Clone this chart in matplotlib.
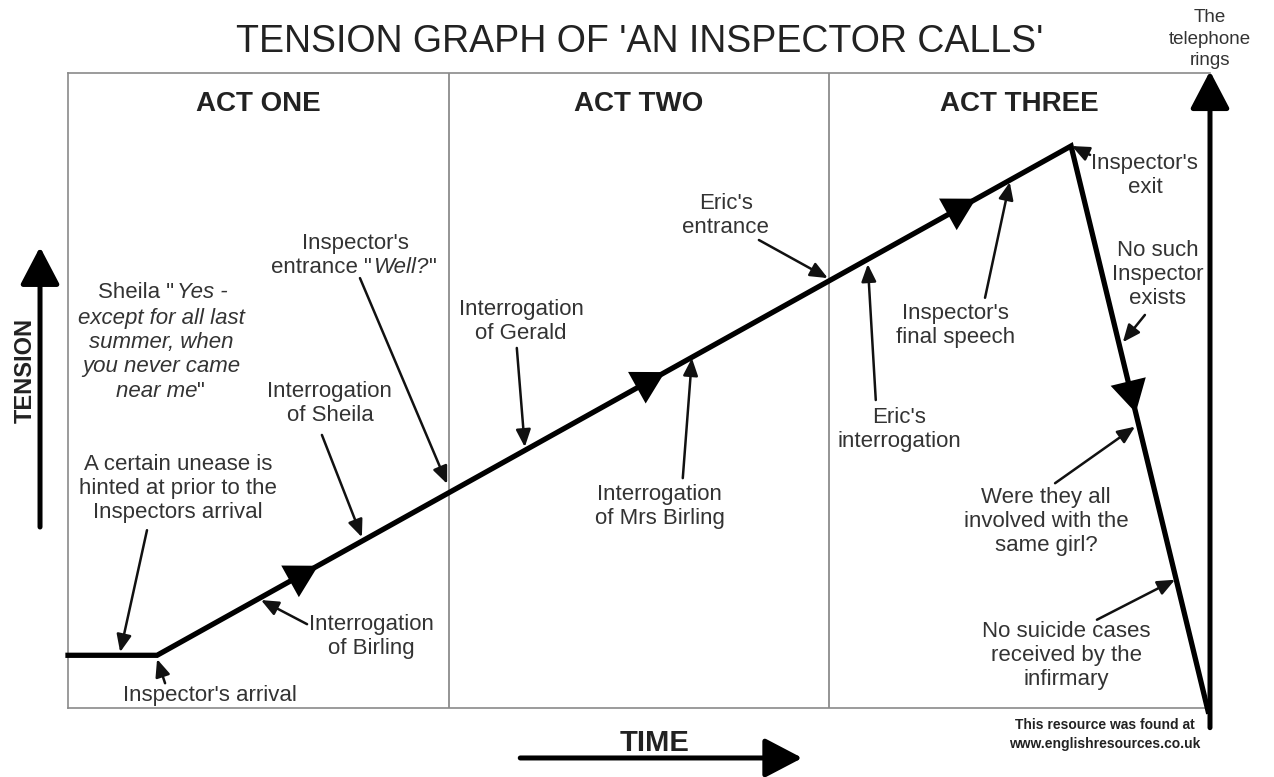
import matplotlib.pyplot as plt
import numpy as np

plt.rcParams['font.family'] = ['Liberation Sans', 'DejaVu Sans']

# time is measured in acts (0-3), tension on a 0-100 scale
line_time = [0, 0.234, 2.635, 2.995]
line_tension = [8.3, 8.3, 88.5, -0.5]

# arrowheads showing direction along the line
head_time = [0.657, 1.568, 2.385, 2.805]
head_tension = [22.4, 52.9, 80.2, 46.5]

acts = ['ACT ONE', 'ACT TWO', 'ACT THREE']
act_ends = [1, 2]

events = [
    'A certain unease is\nhinted at prior to the\nInspectors arrival',
    "Inspector's arrival",
    'Interrogation\nof Birling',
    'Interrogation\nof Sheila',
    "Inspector's\nentrance",
    'Interrogation\nof Gerald',
    'Interrogation\nof Mrs Birling',
    "Eric's\nentrance",
    "Eric's\ninterrogation",
    "Inspector's\nfinal speech",
    "Inspector's\nexit",
    'No such\nInspector\nexists',
    'Were they all\ninvolved with the\nsame girl?',
    'No suicide cases\nreceived by the\ninfirmary',
]
# where each event's arrow meets the line
event_time = [0.137, 0.234, 0.507, 0.772, 0.996, 1.200, 1.639, 1.996,
              2.101, 2.474, 2.637, 2.771, 2.803, 2.908]
event_tension = [8.8, 7.7, 17.0, 26.9, 35.3, 41.1, 55.1, 67.7,
                 69.9, 82.8, 88.5, 57.6, 44.3, 20.2]

# layout: label centres and arrow tails
label_pos = [(0.289, 34.6), (0.373, 2.0), (0.796, 11.2), (0.688, 47.9),
             None, (1.190, 60.9), (1.555, 31.7), (1.728, 77.5),
             (2.183, 43.9), (2.332, 60.2), (2.829, 83.9), (2.863, 68.3),
             (2.569, 29.4), (2.622, 8.3)]
tail_pos = [(0.2075, 28.0), (0.255, 3.9), (0.628, 13.2), (0.667, 43.0),
            (0.767, 67.7), (1.179, 56.7), (1.615, 36.2), (1.815, 73.7),
            (2.122, 48.5), (2.409, 64.6), (2.685, 87.1), (2.829, 61.9),
            (2.593, 35.4), (2.703, 13.9)]

txt_col = '#333333'
fs = 16
ls = 1.2

fig = plt.figure(figsize=(12.74, 7.77), dpi=100)
ax = fig.add_axes([68 / 1274, 69 / 777, 1142 / 1274, 635 / 777])
ax.set_xlim(0, 3)
ax.set_ylim(0, 100)
ax.set_xticks([])
ax.set_yticks([])
for s in ['left', 'top', 'bottom']:
    ax.spines[s].set_color('#8a8a8a')
    ax.spines[s].set_linewidth(1.2)
ax.spines['right'].set_visible(False)

for x in act_ends:
    ax.axvline(x, color='#777777', lw=1.1)
for i, name in enumerate(acts):
    ax.text(i + 0.5, 95.1, name, ha='center', va='center', fontsize=20,
            fontweight='bold', color='#222222')

# main tension line
ax.plot(line_time, line_tension, color='black', lw=3.8,
        solid_joinstyle='miter', clip_on=False, zorder=3)
for i, (t, v) in enumerate(zip(head_time, head_tension)):
    start = (line_time[1], line_tension[1]) if i < 3 else (line_time[2], line_tension[2])
    ax.annotate('', xy=(t, v), xytext=start,
                arrowprops=dict(arrowstyle='-|>,head_length=1.1,head_width=0.62',
                                color='black', lw=0, mutation_scale=21,
                                shrinkA=0, shrinkB=0), zorder=4)

# right-hand arrow (the telephone rings)
ax.annotate('', xy=(3.0, 100.3), xytext=(3.0, -3.1),
            arrowprops=dict(arrowstyle='-|>,head_length=1.05,head_width=0.55',
                            color='black', lw=3.6, mutation_scale=22,
                            shrinkA=0, shrinkB=0), annotation_clip=False)
ax.text(1.0, 1.0535, 'The\ntelephone\nrings', transform=ax.transAxes,
        ha='center', va='center', fontsize=13.5, linespacing=1.35,
        color=txt_col, clip_on=False)

# event labels and arrows
for i, lab in enumerate(events):
    ax.annotate('', xy=(event_time[i], event_tension[i]), xytext=tail_pos[i],
                arrowprops=dict(arrowstyle='-|>,head_length=0.75,head_width=0.32',
                                color='#111111', lw=1.8, mutation_scale=14,
                                shrinkA=0, shrinkB=0), zorder=5)
    if label_pos[i] is None:
        continue
    ax.text(label_pos[i][0], label_pos[i][1], lab, ha='center', va='center',
            fontsize=fs, color=txt_col, linespacing=ls, multialignment='center')

# Inspector's entrance "Well?"
ax.text(0.754, 73.2, "Inspector's", ha='center', va='center', fontsize=fs, color=txt_col)
t1 = ax.text(0.799, 69.4, 'entrance "', ha='right', va='center', fontsize=fs, color=txt_col)
t2 = ax.annotate('Well?', xy=(1, 0), xycoords=t1, xytext=(1, 0), textcoords='offset points',
                 ha='left', va='bottom', fontsize=fs, style='italic', color=txt_col)
ax.annotate('"', xy=(1, 0), xycoords=t2, ha='left', va='bottom', fontsize=fs, color=txt_col)

# Sheila quote
s1 = ax.text(0.278, 65.4, 'Sheila "', ha='right', va='center', fontsize=fs, color=txt_col)
ax.annotate('Yes -', xy=(1, 0), xycoords=s1, xytext=(2, 0), textcoords='offset points',
            ha='left', va='bottom', fontsize=fs, style='italic', color=txt_col)
ax.text(0.244, 57.6, 'except for all last\nsummer, when\nyou never came', ha='center',
        va='center', fontsize=fs, style='italic', color=txt_col, linespacing=ls)
s5 = ax.text(0.339, 49.9, 'near me', ha='right', va='center', fontsize=fs,
             style='italic', color=txt_col)
ax.annotate('"', xy=(1, 0), xycoords=s5, ha='left', va='bottom', fontsize=fs, color=txt_col)

# axis arrows and titles
arrow_big = dict(arrowstyle='-|>,head_length=1.05,head_width=0.55', color='black',
                 lw=3.6, mutation_scale=22, shrinkA=0, shrinkB=0)
ax.annotate('', xy=(-0.0245, 0.726), xytext=(-0.0245, 0.285), xycoords='axes fraction',
            arrowprops=arrow_big, annotation_clip=False)
ax.text(-0.0377, 0.532, 'TENSION', transform=ax.transAxes, rotation=90, ha='center',
        va='center', fontsize=17, fontweight='bold', color='#222222')
ax.annotate('', xy=(0.643, -0.0787), xytext=(0.396, -0.0787), xycoords='axes fraction',
            arrowprops=arrow_big, annotation_clip=False)
ax.text(0.514, -0.0555, 'TIME', transform=ax.transAxes, ha='center', va='center',
        fontsize=21, fontweight='bold', color='#222222')

ax.text(0.501, 1.049, "TENSION GRAPH OF 'AN INSPECTOR CALLS'", transform=ax.transAxes,
        ha='center', va='center', fontsize=27, color='#222222')
ax.text(0.908, -0.041, 'This resource was found at\nwww.englishresources.co.uk',
        transform=ax.transAxes, ha='center', va='center', fontsize=10,
        fontweight='bold', color='#222222', linespacing=1.45)

fig.savefig('out.png', dpi=100, facecolor='white')
